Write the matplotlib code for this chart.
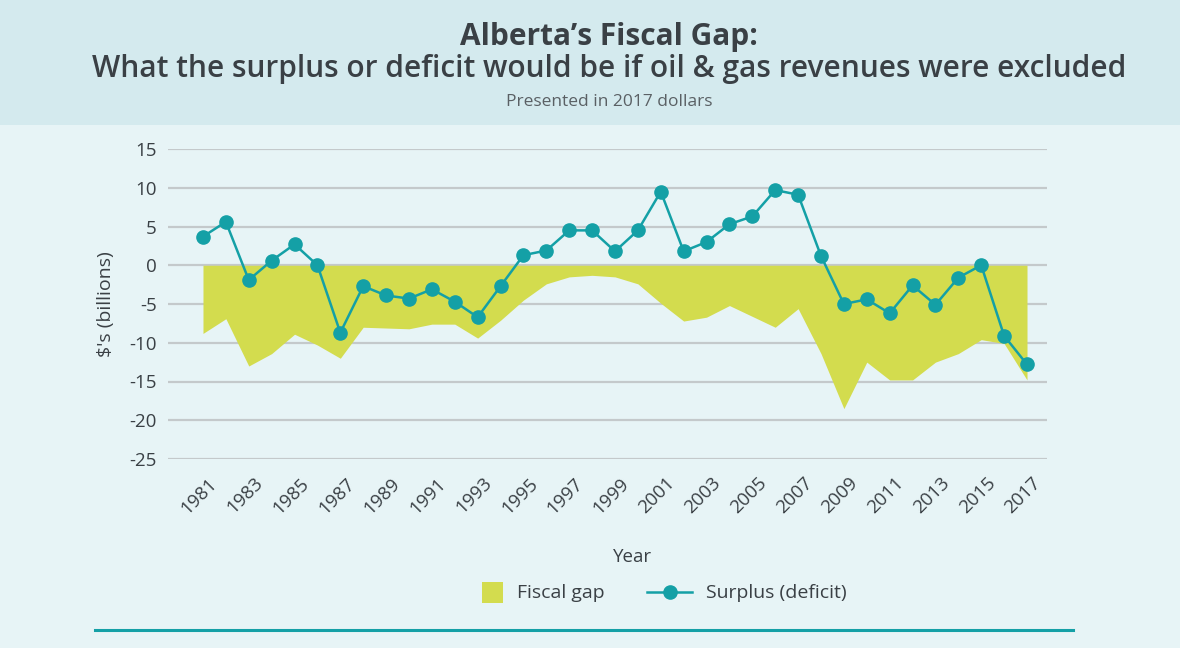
import numpy as np
import matplotlib.pyplot as plt
import matplotlib.transforms as mtransforms
from matplotlib.patches import Rectangle
from matplotlib.lines import Line2D

# === DATOS ===
years = list(range(1981, 2018))
surplus = [3.7, 5.6, -1.9, 0.6, 2.7, 0.0, -8.7, -2.7, -3.9, -4.3,
           -3.1, -4.7, -6.7, -2.7, 1.3, 1.9, 4.5, 4.5, 1.8, 4.5,
           9.5, 1.8, 3.0, 5.3, 6.3, 9.7, 9.1, 1.2, -5.0, -4.4,
           -6.2, -2.6, -5.1, -1.6, 0.0, -9.1, -12.8]
fiscal_gap = [-8.8, -6.9, -13.0, -11.4, -8.9, -10.3, -12.0, -8.0, -8.1, -8.2,
              -7.6, -7.6, -9.4, -7.1, -4.5, -2.4, -1.5, -1.3, -1.5, -2.4,
              -4.9, -7.2, -6.7, -5.2, -6.6, -8.0, -5.6, -11.4, -18.5, -12.5,
              -14.8, -14.8, -12.5, -11.4, -9.6, -10.1, -14.8]
y_ticks = [15, 10, 5, 0, -5, -10, -15, -20, -25]
x_ticks = list(range(1981, 2018, 2))

# === COLORES ===
teal = '#14a0a6'
yellow = '#d3dc4e'
bg = '#e7f4f6'
header_bg = '#d4eaee'
text_col = '#3a4045'
grid_col = '#c4c9cb'

plt.rcParams['font.family'] = ['Open Sans', 'DejaVu Sans']

W, H = 1180, 648
fig = plt.figure(figsize=(W / 100, H / 100), dpi=100)
fig.patch.set_facecolor(bg)

def fx(px):
    return px / W

def fy(py):
    return 1 - py / H

# banda del encabezado
fig.patches.append(Rectangle((0, fy(125)), 1, 125 / H, transform=fig.transFigure,
                             facecolor=header_bg, edgecolor='none', zorder=0))

cx = fx(609)
fig.text(cx, fy(37), "Alberta\u2019s Fiscal Gap:", ha='center', va='center',
         fontsize=21.5, fontweight='bold', color=text_col)
fig.text(cx, fy(69), "What the surplus or deficit would be if oil & gas revenues were excluded",
         ha='center', va='center', fontsize=21.5, fontweight='semibold', color=text_col)
fig.text(cx, fy(102), "Presented in 2017 dollars", ha='center', va='center',
         fontsize=12.5, color='#5a6064')

ax = fig.add_axes([fx(168), fy(459), fx(1047 - 168), (459 - 149) / H])
ax.set_facecolor('none')
ax.set_xlim(1981 - 35 / 22.9, 2017 + 20 / 22.9)
ax.set_ylim(-25, 15)
ax.set_yticks(y_ticks)
ax.set_yticklabels([str(v) for v in y_ticks])
ax.set_xticks(x_ticks)
ax.set_xticklabels([str(y) for y in x_ticks], rotation=45, ha='right', rotation_mode='anchor')
ax.tick_params(axis='both', length=0, labelsize=13.5, colors=text_col)
ax.tick_params(axis='y', pad=8)
ax.tick_params(axis='x', pad=11)
shift = mtransforms.ScaledTranslation(5 / 100, 0, fig.dpi_scale_trans)
for lab in ax.get_xticklabels():
    lab.set_transform(lab.get_transform() + shift)
for s in ax.spines.values():
    s.set_visible(False)
ax.grid(axis='y', color=grid_col, lw=1.6, zorder=0)
ax.set_axisbelow(True)

ax.fill_between(years, fiscal_gap, 0, color=yellow, lw=0, zorder=2)
ax.plot(years, surplus, color=teal, lw=1.8, marker='o', markersize=9.5,
        markeredgecolor=teal, zorder=3, clip_on=False)

ax.set_ylabel("$'s (billions)", fontsize=14, color=text_col)
ax.yaxis.set_label_coords(fx(106 - 168) / fx(1047 - 168), 0.5)
ax.set_xlabel("Year", fontsize=13.5, color=text_col)
ax.xaxis.set_label_coords(fx(633 - 168) / fx(1047 - 168), -(557 - 459) / (459 - 149))
ax.xaxis.label.set_va('center')
ax.yaxis.label.set_va('center')

# leyenda
fig.patches.append(Rectangle((fx(482), fy(603)), fx(21), 21 / H, transform=fig.transFigure,
                             facecolor=yellow, edgecolor='none'))
fig.text(fx(517), fy(593), 'Fiscal gap', ha='left', va='center', fontsize=14, color=text_col)
fig.add_artist(Line2D([fx(647), fx(692)], [fy(592)] * 2, transform=fig.transFigure,
                      color=teal, lw=1.8))
fig.add_artist(Line2D([fx(670)], [fy(592)], transform=fig.transFigure,
                      color=teal, marker='o', markersize=9.5, lw=0))
fig.text(fx(706), fy(593), 'Surplus (deficit)', ha='left', va='center', fontsize=14, color=text_col)

# línea inferior
fig.add_artist(Line2D([fx(95), fx(1073)], [fy(630)] * 2,
                      transform=fig.transFigure, color=teal, lw=2.2))

fig.savefig('out.png', dpi=100, facecolor=fig.get_facecolor())
